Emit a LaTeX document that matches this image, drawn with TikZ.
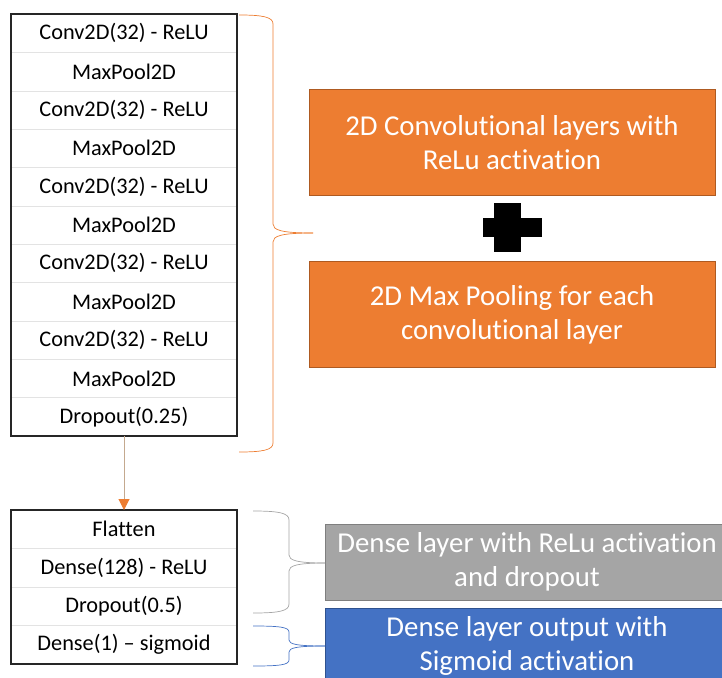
\documentclass[tikz,border=0pt]{standalone}
\usepackage{fontspec}
\setmainfont{Carlito}[Ligatures=NoCommon]
\usetikzlibrary{positioning,arrows.meta}

\definecolor{convorange}{HTML}{ED7D31}
\definecolor{convedge}{HTML}{AE5A21}
\definecolor{densegray}{HTML}{A5A5A5}
\definecolor{denseedge}{HTML}{7F7F7F}
\definecolor{outblue}{HTML}{4472C4}
\definecolor{outedge}{HTML}{2F528F}
\definecolor{flowtan}{HTML}{C4A98F}

\begin{document}
\begin{tikzpicture}[
                    x=1pt, y=-1pt,
                    layer/.style={draw=gray!22, minimum width=226pt, minimum height=38.36pt, inner sep=0pt, outer sep=0pt, font=\fontsize{22.3}{26}\selectfont},
                    frame/.style={draw=black!85, line width=1.4pt},
                    flow/.style={draw=flowtan, line width=1pt, -{Triangle[length=11pt, width=11pt, color=convorange, fill=convorange]}},
                    infobox/.style={text=white, align=center, inner sep=0pt, line width=0.8pt, font=\fontsize{28.8}{34}\selectfont},
                    convbox/.style={infobox, fill=convorange, draw=convedge, minimum width=406pt, minimum height=106pt},
                    densebox/.style={infobox, fill=densegray, draw=denseedge, minimum width=404pt, minimum height=76pt},
                    outbox/.style={infobox, fill=outblue, draw=outedge, minimum width=404pt, minimum height=76pt},
                    convbrace/.style={draw=convorange, line width=0.7pt},
                    densebrace/.style={draw=densegray, line width=0.7pt},
                    outbrace/.style={draw=outblue, line width=0.7pt}
                ]

                \useasboundingbox (0,0) rectangle (722,677);
                \clip (0,0) rectangle (722,677);

                % Convolutional part
                \node[layer] (c1) at (124,33.18) {Conv2D(32) - ReLU};
                \node[layer, below=0pt of c1] (p1) {MaxPool2D};
                \node[layer, below=0pt of p1] (c2) {Conv2D(32) - ReLU};
                \node[layer, below=0pt of c2] (p2) {MaxPool2D};
                \node[layer, below=0pt of p2] (c3) {Conv2D(32) - ReLU};
                \node[layer, below=0pt of c3] (p3) {MaxPool2D};
                \node[layer, below=0pt of p3] (c4) {Conv2D(32) - ReLU};
                \node[layer, below=0pt of c4] (p4) {MaxPool2D};
                \node[layer, below=0pt of p4] (c5) {Conv2D(32) - ReLU};
                \node[layer, below=0pt of c5] (p5) {MaxPool2D};
                \node[layer, below=0pt of p5] (drop1) {Dropout(0.25)};
                \draw[frame] (c1.north west) rectangle (drop1.south east);

                % Dense part
                \node[layer, minimum height=38.5pt] (flat) at (124,529.25) {Flatten};
                \node[layer, minimum height=38.5pt, below=0pt of flat] (dense1) {Dense(128) - ReLU};
                \node[layer, minimum height=38.5pt, below=0pt of dense1] (drop2) {Dropout(0.5)};
                \node[layer, minimum height=38.5pt, below=0pt of drop2] (dense2) {Dense(1) -- sigmoid};
                \draw[frame] (flat.north west) rectangle (dense2.south east);

                \draw[flow] (drop1.south) -- (flat.north);

                % Explanations
                \node[convbox] (convtxt) at (512,142.5) {2D Convolutional layers with\\ReLu activation};
                \node[convbox] (pooltxt) at (512,314.5) {2D Max Pooling for each\\convolutional layer};
                \fill[black] (483,218) rectangle (542,237);
                \fill[black] (494,203) rectangle (521,252);
                \node[densebox] (densetxt) at (527,562) {Dense layer with ReLu activation\\and dropout};
                \node[outbox] (outtxt) at (527,646) {Dense layer output with\\Sigmoid activation};

                % Braces
                \coordinate (convtip) at (313,233);
                \coordinate (densetip) at (325,563);
                \coordinate (outtip) at (325,646);
                \draw[convbrace] (239,15) .. controls (263,15) and (273,17) .. (273,24) -- (273,224)
                    .. controls (273,230) and (281,233) .. (convtip);
                \draw[convbrace] (239,452) .. controls (263,452) and (273,450) .. (273,443) -- (273,242)
                    .. controls (273,236) and (281,233) .. (convtip);
                \draw[densebrace] (253,511) .. controls (279,511) and (289,513) .. (289,520) -- (289,555)
                    .. controls (289,560) and (296,563) .. (densetip);
                \draw[densebrace] (253,613) .. controls (279,613) and (289,611) .. (289,604) -- (289,571)
                    .. controls (289,566) and (296,563) .. (densetip);
                \draw[outbrace] (253,626) .. controls (279,626) and (289,627) .. (289,632) -- (289,640)
                    .. controls (289,644) and (296,646) .. (outtip);
                \draw[outbrace] (253,666) .. controls (279,666) and (289,665) .. (289,660) -- (289,652)
                    .. controls (289,648) and (296,646) .. (outtip);

                \end{tikzpicture}
\end{document}
